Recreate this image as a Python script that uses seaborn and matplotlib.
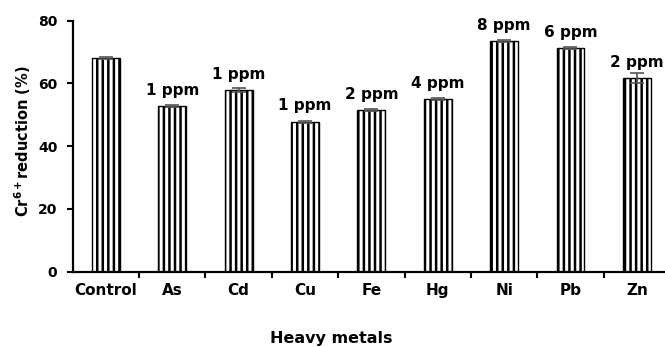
import matplotlib
matplotlib.use("Agg")
import matplotlib.pyplot as plt
import seaborn as sns
import numpy as np
import pandas as pd

metals = ["Control", "As", "Cd", "Cu", "Fe", "Hg", "Ni", "Pb", "Zn"]
reduction = [68.2, 52.8, 57.9, 47.8, 51.5, 55.0, 73.4, 71.3, 61.6]
errors = [0.3, 0.2, 0.5, 0.3, 0.3, 0.4, 0.3, 0.4, 1.6]
ppm_labels = ["", "1 ppm", "1 ppm", "1 ppm", "2 ppm", "4 ppm", "8 ppm", "6 ppm", "2 ppm"]
yticks = [0, 20, 40, 60, 80]

sns.set_style("white")
plt.rcParams["font.family"] = ["DejaVu Sans"]
plt.rcParams["font.weight"] = "bold"
plt.rcParams["hatch.linewidth"] = 1.8
plt.rcParams["hatch.color"] = "black"
plt.rcParams["mathtext.default"] = "bf"
plt.rcParams["text.color"] = "black"
plt.rcParams["xtick.labelcolor"] = "black"
plt.rcParams["ytick.labelcolor"] = "black"

df = pd.DataFrame({"metal": metals, "reduction": reduction})

fig = plt.figure(figsize=(6.65, 3.47), dpi=100)
ax = fig.add_axes([72.7 / 665, 75.3 / 347, 597.3 / 665, 251 / 347])

sns.barplot(data=df, x="metal", y="reduction", order=metals, color="white",
            edgecolor="black", linewidth=1.0, width=0.42, errorbar=None,
            saturation=1, ax=ax)
for p in ax.patches:
    p.set_hatch("|||")
    p.set_facecolor("white")
    p.set_edgecolor("black")

xpos = np.arange(len(metals))
ax.errorbar(xpos, reduction, yerr=errors, fmt="none", ecolor="#555555",
            elinewidth=1.2, capsize=5, capthick=1.2, zorder=5)

for x, v, lab in zip(xpos, reduction, ppm_labels):
    if lab:
        ax.text(x, v + 3.6, lab, ha="center", va="baseline",
                fontsize=11, fontweight="bold", color="black")

ax.set_xlim(-0.5, 8.5)
ax.set_ylim(0, 80)
ax.set_yticks(yticks)
ax.set_yticklabels([str(t) for t in yticks], fontsize=10, fontweight="bold")
ax.set_xticks(xpos)
ax.set_xticklabels(metals, fontsize=11, fontweight="bold")
ax.set_xticks(np.arange(0.5, 8.0, 1.0), minor=True)

ax.tick_params(axis="x", which="major", length=0, pad=8)
ax.tick_params(axis="x", which="minor", direction="out", length=4, width=1.5,
               color="black", bottom=True)
ax.tick_params(axis="y", which="major", direction="out", length=4, width=1.5,
               color="black", pad=7, left=True)

sns.despine(ax=ax)
for s in ["left", "bottom"]:
    ax.spines[s].set_linewidth(1.6)
    ax.spines[s].set_color("black")

ax.set_xlabel("")
ax.set_ylabel("")
fig.text(23 / 665, 1 - 141.7 / 347, r"Cr$^{6+}$reduction (%)", rotation=90,
         ha="center", va="center", fontsize=10.5, fontweight="bold")
fig.text(331 / 665, (347 - 342.7) / 347, "Heavy metals", ha="center",
         va="baseline", fontsize=11.5, fontweight="bold")

fig.savefig("out.png", dpi=100)
